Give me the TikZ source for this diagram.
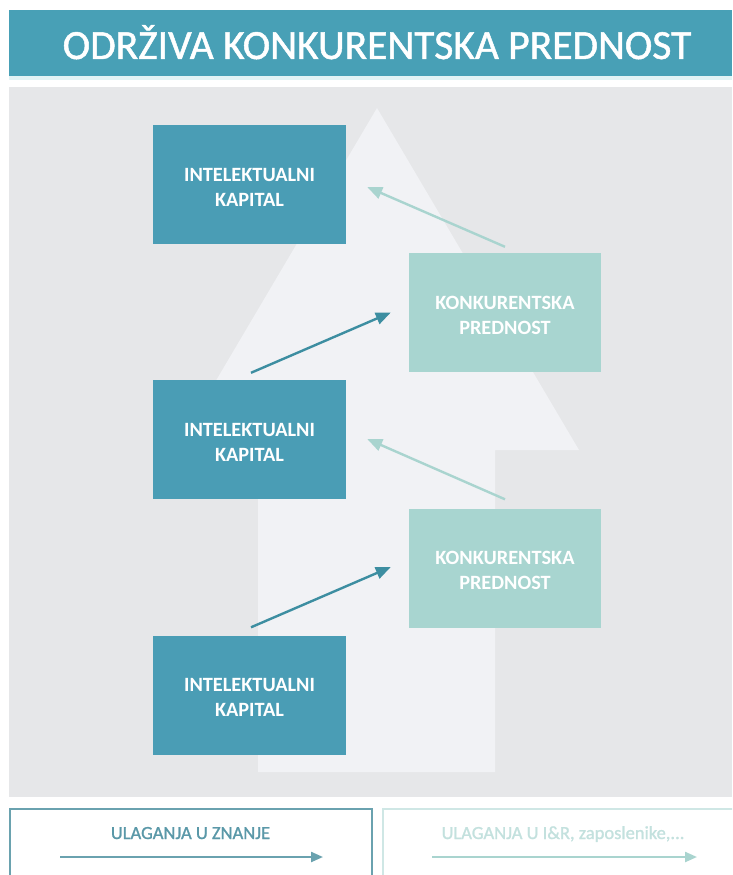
\documentclass[tikz,border=0pt]{standalone}
\usepackage{fontspec}
\setmainfont{Carlito}
\newfontfamily\heavyfont{Carlito}[FakeBold=1.2]
\usetikzlibrary{arrows.meta,calc}
\definecolor{titlebar}{HTML}{48A0B6}
\definecolor{boxdark}{HTML}{4A9DB5}
\definecolor{boxlight}{HTML}{A8D5D0}
\definecolor{panel}{HTML}{E6E7E9}
\definecolor{arrowbg}{HTML}{F1F2F5}
\definecolor{arrdark}{HTML}{3D8EA1}
\definecolor{arrlight}{HTML}{A9D4CF}
\definecolor{strip}{HTML}{E2F3F5}
\definecolor{frameL}{HTML}{6AA2AF}
\definecolor{frameR}{HTML}{CFE7E5}
\definecolor{txtL}{HTML}{5A98A8}
\definecolor{txtR}{HTML}{C3E1DE}
\begin{document}
\begin{tikzpicture}[x=1pt,y=-1pt,
  darkbox/.style={fill=boxdark, minimum width=193pt, minimum height=119pt, inner sep=0pt,
    label={[boxtext]center:#1}},
  lightbox/.style={darkbox=#1, fill=boxlight, minimum width=192pt},
  boxtext/.style={text=white, font=\bfseries\fontsize{20.3}{25}\selectfont, align=center, inner sep=0pt, yshift=-2.5pt},
  darkarrow/.style={draw=arrdark, line width=2.4pt, -{Triangle[length=15pt,width=12pt]}},
  lightarrow/.style={draw=arrlight, line width=2.4pt, -{Triangle[length=15pt,width=12pt]}},
  legarrowL/.style={draw=frameL, line width=2.2pt, -{Triangle[length=12pt,width=10pt]}},
  legarrowR/.style={draw=arrlight, line width=2.2pt, -{Triangle[length=12pt,width=10pt]}}]
\clip (0,0) rectangle (732,875);
\fill[white] (0,0) rectangle (732,875);
% title bar
\fill[titlebar] (9,10) rectangle (732,76);
\fill[strip] (9,76) rectangle (732,80);
\node[anchor=base, text=white, font=\heavyfont\fontsize{41.5}{41.5}\selectfont, inner sep=0pt] (title) at (377,59) {ODRŽIVA KONKURENTSKA PREDNOST};
% panel
\fill[panel] (9,87) rectangle (732,797);
% big up arrow
\fill[arrowbg] (377,108) -- (579,450) -- (495,450) -- (495,772) -- (258,772) -- (258,450) -- (175,450) -- cycle;
% boxes
\node[darkbox={INTELEKTUALNI\\KAPITAL}] (i1) at (249.5,184.5) {};
\node[darkbox={INTELEKTUALNI\\KAPITAL}] (i2) at (249.5,439.5) {};
\node[darkbox={INTELEKTUALNI\\KAPITAL}] (i3) at (249.5,695) {};
\node[lightbox={KONKURENTSKA\\PREDNOST}] (k1) at (505,312.5) {};
\node[lightbox={KONKURENTSKA\\PREDNOST}] (k2) at (505,568) {};
% connectors
\draw[darkarrow] ($(i2.north)+(1.5,-7)$) -- ($(k1.west)+(-18,0)$);
\draw[darkarrow] ($(i3.north)+(1.5,-8)$) -- ($(k2.west)+(-18,-1)$);
\draw[lightarrow] ($(k1.north)+(0,-6)$) -- ($(i1.east)+(21,2.5)$);
\draw[lightarrow] ($(k2.north)+(0,-9)$) -- ($(i2.east)+(21,-0.5)$);
% legend
\draw[frameL, line width=2pt] (10,880) -- (10,809) -- (372,809) -- (372,880);
\draw[frameR, line width=2pt] (383,880) -- (383,809) -- (740,809);
\node[anchor=base, text=txtL, font=\heavyfont\fontsize{18.5}{18.5}\selectfont, inner sep=0pt] (lt) at (190.5,839) {ULAGANJA U ZNANJE};
\node[anchor=base, text=txtR, font=\heavyfont\fontsize{18.5}{18.5}\selectfont, inner sep=0pt] (rt) at (563,839) {ULAGANJA U I\&R, zaposlenike,...};
\coordinate (l1) at (60,857);
\coordinate (l2) at (323,857);
\coordinate (r1) at (432,857);
\coordinate (r2) at (697,857);
\draw[legarrowL] (l1) -- (l2);
\draw[legarrowR] (r1) -- (r2);
\end{tikzpicture}
\end{document}
